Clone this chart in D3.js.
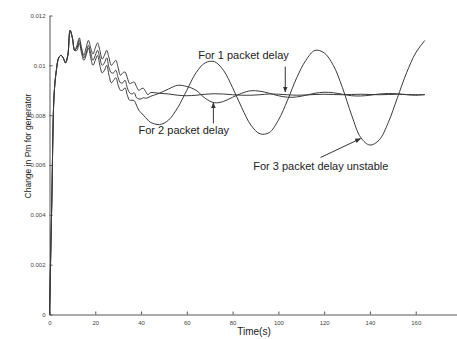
<!DOCTYPE html>
<html>
<head>
<meta charset="utf-8">
<script src="https://cdn.jsdelivr.net/npm/d3@7"></script>
<style>
  body { margin: 0; background: #fff; }
  svg { display: block; }
  .axis path, .axis line { stroke: #555; }
  .axis text { fill: #444; font-family: "Liberation Sans", Arial, sans-serif; font-size: 6px; }
  .curve { fill: none; stroke: #3a3a3a; stroke-width: 1; }
  .note { font-family: "Liberation Sans", Arial, sans-serif; font-size: 11px; fill: #222; }
</style>
</head>
<body>
<div id="chart"></div>
<script>
// time samples (s)
var time = [0,1,2,3,4,5,6,7,8,9,10,11,12,13,14,15,16,17,18,19,20,21,22,23,24,25,26,27,28,29,30,
  31,32,33,34,35,36,37,38,39,40,41,42,43,44,
  48,52,56,60,64,68,72,76,80,84,88,92,96,100,104,108,112,116,120,124,128,132,136,140,144,148,152,156,160,164];

// change in Pm, 1 packet delay
var delay1 = [0,0.0045,0.0088,0.0098,0.0103,0.0104,0.0103,0.0101,0.0104,0.0114,0.0111,0.0106,
  0.0108,0.0111,0.0107,0.0104,0.0107,0.0110,0.0107,0.01045,0.0107,0.0109,0.0106,0.01025,0.0104,
  0.0106,0.0103,0.0100,0.0101,0.0102,0.0099,0.0096,0.0097,0.00973,0.0095,0.00927,0.0093,0.00933,
  0.00915,0.0090,0.00905,0.00908,0.00895,0.00882,0.0089,
  0.00888,0.00885,0.0088,0.00878,0.0088,0.00884,0.00886,0.00885,0.00882,0.0088,0.0088,0.00882,
  0.00885,0.00884,0.00882,0.0088,0.00881,0.00883,0.00884,0.00883,0.00882,0.00883,0.00884,0.00883,
  0.00882,0.00883,0.00884,0.00883,0.00882,0.00883];

// change in Pm, 2 packet delay
var delay2 = [0,0.0045,0.0088,0.0098,0.0103,0.0104,0.0103,0.0101,0.0104,0.0114,0.0111,0.0106,
  0.0107,0.0110,0.0106,0.0103,0.0105,0.0108,0.0105,0.0102,0.0104,0.0106,0.0103,0.0100,0.0101,
  0.0103,0.0099,0.0097,0.0097,0.0098,0.0095,0.0093,0.0093,0.0094,0.0091,0.0089,0.00885,0.0089,
  0.0087,0.00865,0.00865,0.0087,0.00868,0.0087,0.00875,
  0.00888,0.00905,0.0092,0.00915,0.0090,0.00868,0.0085,0.00855,0.00872,0.00888,0.00898,0.00896,
  0.00888,0.00878,0.00872,0.00873,0.0088,0.00888,0.00892,0.0089,0.00884,0.00878,0.00877,0.0088,
  0.00885,0.00887,0.00886,0.00882,0.0088,0.00882];

// change in Pm, 3 packet delay (unstable)
var delay3 = [0,0.0045,0.0088,0.0098,0.0103,0.0104,0.0103,0.0101,0.0104,0.0114,0.0111,0.0106,
  0.0106,0.0109,0.0105,0.0102,0.0104,0.0107,0.0103,0.0100,0.0102,0.0104,0.0100,0.0097,0.0098,
  0.0100,0.0096,0.0093,0.0094,0.0095,0.0092,0.0090,0.0090,0.0091,0.0088,0.0086,0.0086,0.00858,
  0.0084,0.0082,0.0081,0.0080,0.0079,0.0078,0.00772,
  0.00762,0.0078,0.0083,0.0090,0.0097,0.0101,0.01015,0.0098,0.0091,0.0083,0.0076,0.00725,0.0073,
  0.0078,0.0086,0.0095,0.0102,0.0106,0.0105,0.0100,0.0091,0.0080,0.0071,0.0068,0.0070,0.0077,
  0.0087,0.0097,0.0105,0.0110];

var xTicks = [0,20,40,60,80,100,120,140,160,180];
var yTicks = [0,0.002,0.004,0.006,0.008,0.01,0.012];
var yTickLabels = ["0","0.002","0.004","0.006","0.008","0.01","0.012"];

// annotations: text anchor and arrow (tail -> head) in data units
var notes = [
  {text: "For 1 packet delay", t: 65, v: 0.01027, arrow: [[103, 0.00995], [103, 0.00893]]},
  {text: "For 2 packet delay", t: 38.9, v: 0.00726, arrow: [[71.6, 0.00767], [71.6, 0.00849]]},
  {text: "For 3 packet delay unstable", t: 89, v: 0.00578, arrow: [[118.4, 0.0063], [135.9, 0.00706]]}
];

var width = 457, height = 339;
var svg = d3.select("#chart").append("svg")
  .attr("width", width).attr("height", height);

svg.append("defs").append("marker")
  .attr("id", "head")
  .attr("viewBox", "0 0 10 10")
  .attr("refX", 9).attr("refY", 5)
  .attr("markerWidth", 6).attr("markerHeight", 6)
  .attr("orient", "auto")
  .append("path")
  .attr("d", "M0,1L10,5L0,9Z")
  .attr("fill", "#333");

var x = d3.scaleLinear().domain([0, 180]).range([49.5, 461.5]);
var y = d3.scaleLinear().domain([0, 0.012]).range([314.5, 15.5]);

svg.append("g")
  .attr("class", "axis")
  .attr("transform", "translate(0," + y(0) + ")")
  .call(d3.axisBottom(x).tickValues(xTicks).tickSizeInner(-3).tickSizeOuter(0).tickPadding(5))
  .call(g => g.selectAll("text").attr("dy", "0.9em"));

svg.append("g")
  .attr("class", "axis")
  .attr("transform", "translate(" + x(0) + ",0)")
  .call(d3.axisLeft(y).tickValues(yTicks).tickSizeInner(-3).tickSizeOuter(0).tickPadding(4)
    .tickFormat((d, i) => yTickLabels[i]));

var line = d3.line()
  .x((d, i) => x(time[i]))
  .y(d => y(d))
  .curve(d3.curveCatmullRom);

[delay1, delay2, delay3].forEach(function(series) {
  svg.append("path")
    .attr("class", "curve")
    .attr("d", line(series));
});

notes.forEach(function(n) {
  svg.append("text")
    .attr("class", "note")
    .attr("x", x(n.t))
    .attr("y", y(n.v))
    .text(n.text);
  svg.append("line")
    .attr("x1", x(n.arrow[0][0])).attr("y1", y(n.arrow[0][1]))
    .attr("x2", x(n.arrow[1][0])).attr("y2", y(n.arrow[1][1]))
    .attr("stroke", "#333")
    .attr("stroke-width", 1)
    .attr("marker-end", "url(#head)");
});

svg.append("text")
  .attr("x", 254)
  .attr("y", 335)
  .attr("text-anchor", "middle")
  .style("font-family", "Liberation Sans, Arial, sans-serif")
  .style("font-size", "10px")
  .style("fill", "#222")
  .text("Time(s)");

svg.append("text")
  .attr("transform", "translate(31,146) rotate(-90)")
  .attr("text-anchor", "middle")
  .style("font-family", "Liberation Sans, Arial, sans-serif")
  .style("font-size", "8.5px")
  .style("fill", "#222")
  .text("Change in Pm for generator");
</script>
</body>
</html>
